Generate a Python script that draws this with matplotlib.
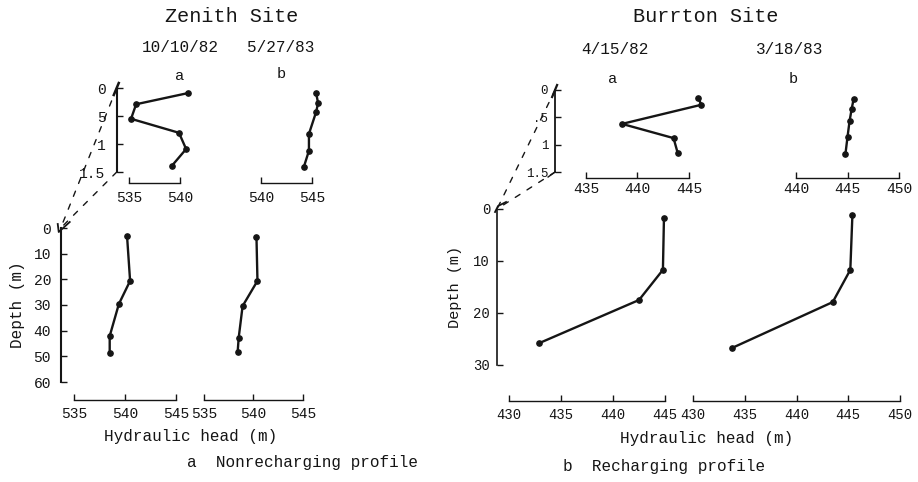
import numpy as np
import matplotlib.pyplot as plt
from matplotlib.patches import ConnectionPatch
from matplotlib.transforms import ScaledTranslation

plt.rcParams['font.family'] = ['Liberation Mono', 'DejaVu Sans']
INK = '#151515'

# Zenith site, hydraulic head (m) vs depth (m)
zen_a_top_head = [540.8, 535.7, 535.2, 539.9, 540.6, 539.2]
zen_a_top_depth = [0.09, 0.29, 0.55, 0.80, 1.09, 1.39]
zen_b_top_head = [545.4, 545.6, 545.4, 544.7, 544.7, 544.2]
zen_b_top_depth = [0.09, 0.27, 0.43, 0.82, 1.12, 1.41]
zen_a_head = [540.2, 540.5, 539.4, 538.5, 538.5]
zen_a_depth = [3.1, 20.6, 29.6, 42.1, 48.7]
zen_b_head = [540.3, 540.4, 538.9, 538.5, 538.4]
zen_b_depth = [3.5, 20.6, 30.4, 42.9, 48.3]

# Burrton site
bur_a_top_head = [445.9, 446.2, 438.5, 443.5, 443.9]
bur_a_top_depth = [0.15, 0.27, 0.62, 0.88, 1.15]
bur_b_top_head = [445.6, 445.4, 445.2, 445.0, 444.8]
bur_b_top_depth = [0.16, 0.35, 0.57, 0.86, 1.17]
bur_a_head = [444.9, 444.8, 442.5, 432.9]
bur_a_depth = [1.7, 11.7, 17.5, 25.8]
bur_b_head = [445.4, 445.2, 443.5, 433.8]
bur_b_depth = [1.2, 11.7, 17.9, 26.7]

zen_top_ticks = [0, 0.5, 1, 1.5]
zen_top_labels = ['0', '5', '1', '1.5']
bur_top_labels = ['0', '.5', '1', '1.5']

W, H = 918, 482
fig = plt.figure(figsize=(W / 100, H / 100), dpi=100)


def panel(xlim, xcal, ytop, ybot, dmax):
    # xcal = (value0, pixel0, value1, pixel1) sets the horizontal scale
    sx = (xcal[3] - xcal[1]) / (xcal[2] - xcal[0])
    left = xcal[1] + (xlim[0] - xcal[0]) * sx
    right = xcal[1] + (xlim[1] - xcal[0]) * sx
    ax = fig.add_axes([left / W, 1 - ybot / H, (right - left) / W, (ybot - ytop) / H])
    ax.set_xlim(xlim)
    ax.set_ylim(dmax, 0)
    ax.patch.set_visible(False)
    ax.spines['top'].set_visible(False)
    ax.spines['right'].set_visible(False)
    return ax


def xbar(ax, ticks, offset_px, pad, size=10.5):
    sp = ax.spines['bottom']
    sp.set_position(('outward', offset_px * 0.72))
    sp.set_bounds(ticks[0], ticks[-1])
    sp.set_linewidth(1.0)
    sp.set_color(INK)
    ax.set_xticks(ticks)
    ax.set_xticklabels([str(t) for t in ticks])
    ax.tick_params(axis='x', direction='in', length=4, width=1, pad=pad,
                   labelsize=size, colors=INK)


def yaxis(ax, ticks, labels, pad, size=10.5, lw=1.5):
    sp = ax.spines['left']
    sp.set_linewidth(lw)
    sp.set_color(INK)
    ax.set_yticks(ticks)
    ax.set_yticklabels(labels)
    ax.tick_params(axis='y', direction='in', length=4, width=1, pad=pad,
                   labelsize=size, colors=INK)


def no_yaxis(ax):
    ax.spines['left'].set_visible(False)
    ax.set_yticks([])


def profile(ax, head, depth):
    ax.plot(head, depth, '-o', color=INK, lw=1.7, ms=3.8, clip_on=False)


def mark(ax, pts, corner, lw=1.3):
    # small hand-drawn break strokes, given in pixels from an axes corner
    tr = fig.dpi_scale_trans + ScaledTranslation(corner[0], corner[1], ax.transAxes)
    xs = [p[0] / 100 for p in pts]
    ys = [p[1] / 100 for p in pts]
    ax.plot(xs, ys, color=INK, lw=lw, transform=tr, clip_on=False)


def connect(inset, main):
    for yf in (1, 0):
        con = ConnectionPatch(xyA=(0, yf), coordsA=inset.transAxes,
                              xyB=(0, 1), coordsB=main.transAxes,
                              color=INK, lw=1.0, linestyle=(0, (4, 6)))
        fig.add_artist(con)


# ---- Zenith site ----
za_top = panel((533.8, 541.5), (535, 129, 540, 180), 88, 172, 1.5)
profile(za_top, zen_a_top_head, zen_a_top_depth)
yaxis(za_top, zen_top_ticks, zen_top_labels, pad=8)
xbar(za_top, [535, 540], 11, pad=6)
mark(za_top, [(-3, -7), (2, 5)], (0, 1), lw=1.8)

zb_top = panel((539.0, 546.5), (540, 261, 545, 312), 88, 172, 1.5)
profile(zb_top, zen_b_top_head, zen_b_top_depth)
no_yaxis(zb_top)
xbar(zb_top, [540, 545], 11, pad=6)

za = panel((533.7, 546.0), (535, 74, 545, 176), 228, 382, 60)
profile(za, zen_a_head, zen_a_depth)
yaxis(za, list(range(0, 61, 10)), [str(v) for v in range(0, 61, 10)], pad=7)
xbar(za, [535, 540, 545], 18, pad=5)
za.set_ylabel('Depth (m)', fontsize=11.5, color=INK, labelpad=6)
mark(za, [(-3, 4), (-2, -4), (9, 6)], (0, 1))

zb = panel((534.0, 546.0), (535, 204, 545, 303), 228, 382, 60)
profile(zb, zen_b_head, zen_b_depth)
no_yaxis(zb)
xbar(zb, [535, 540, 545], 18, pad=5)

connect(za_top, za)

# ---- Burrton site ----
ba_top = panel((432.0, 447.5), (435, 586, 445, 689), 90, 172, 1.5)
profile(ba_top, bur_a_top_head, bur_a_top_depth)
yaxis(ba_top, zen_top_ticks, bur_top_labels, pad=5, size=9, lw=1.3)
xbar(ba_top, [435, 440, 445], 6, pad=3)
mark(ba_top, [(-3, -7), (2, 5)], (0, 1), lw=1.6)
mark(ba_top, [(0, 0), (-7, -5)], (0, 0), lw=1.0)

bb_top = panel((439.0, 451.0), (440, 796, 450, 899), 90, 172, 1.5)
profile(bb_top, bur_b_top_head, bur_b_top_depth)
no_yaxis(bb_top)
xbar(bb_top, [440, 445, 450], 6, pad=3)

ba = panel((428.85, 446.5), (430, 509, 445, 665), 209, 365, 30)
profile(ba, bur_a_head, bur_a_depth)
yaxis(ba, [0, 10, 20, 30], ['0', '10', '20', '30'], pad=5, size=10, lw=1.2)
xbar(ba, [430, 435, 440, 445], 36, pad=5, size=10)
ba.set_ylabel('Depth (m)', fontsize=11, color=INK, labelpad=8)
mark(ba, [(-2, -3), (1, 3), (9, 7)], (0, 1))

bb = panel((429.0, 451.0), (430, 693, 450, 900), 209, 365, 30)
profile(bb, bur_b_head, bur_b_depth)
no_yaxis(bb)
xbar(bb, [430, 435, 440, 445, 450], 36, pad=5, size=10)

connect(ba_top, ba)

# ---- text ----
def ftext(x, y, s, size, **kw):
    fig.text(x / W, 1 - y / H, s, fontsize=size, color=INK, ha='center', va='center', **kw)


ftext(232, 16, 'Zenith Site', 14.5)
ftext(706, 16, 'Burrton Site', 14.5)
ftext(180, 48, '10/10/82', 11.5)
ftext(281, 48, '5/27/83', 11.5)
ftext(615, 50, '4/15/82', 11.5)
ftext(790, 50, '3/18/83', 11.5)
ftext(180, 76, 'a', 11)
ftext(281, 74, 'b', 11)
ftext(613, 79, 'a', 11)
ftext(793, 79, 'b', 11)
ftext(191, 437, 'Hydraulic head (m)', 11.5)
ftext(707, 438, 'Hydraulic head (m)', 11.5)
fig.text(187 / W, 1 - 463 / H, 'a  Nonrecharging profile', fontsize=11.5, color=INK,
         ha='left', va='center')
fig.text(563 / W, 1 - 466 / H, 'b  Recharging profile', fontsize=11.5, color=INK,
         ha='left', va='center')

fig.savefig('out.png', dpi=100, facecolor='white')
